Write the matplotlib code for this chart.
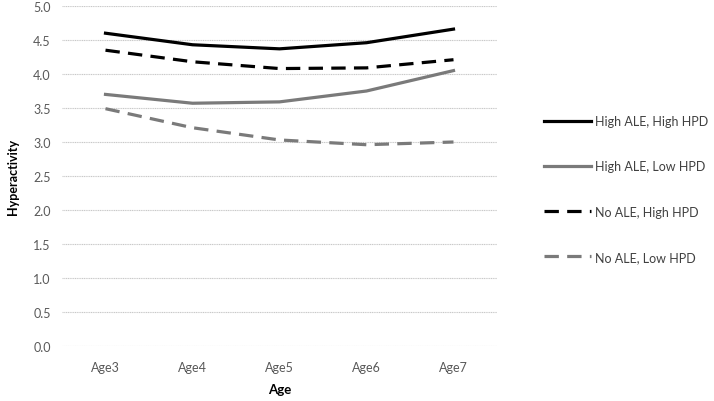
import matplotlib
matplotlib.use("Agg")
import matplotlib.pyplot as plt

# ---------------------------------------------------------- DATA ----------------------------------------------------------#
ages = ['Age3', 'Age4', 'Age5', 'Age6', 'Age7']
high_ale_high_hpd = [4.60, 4.43, 4.37, 4.46, 4.66]
high_ale_low_hpd = [3.70, 3.57, 3.59, 3.75, 4.05]
no_ale_high_hpd = [4.35, 4.18, 4.08, 4.09, 4.21]
no_ale_low_hpd = [3.49, 3.21, 3.03, 2.96, 3.00]
yticks = [0.0, 0.5, 1.0, 1.5, 2.0, 2.5, 3.0, 3.5, 4.0, 4.5, 5.0]

# ---------------------------------------------------------- PLOT ----------------------------------------------------------#
plt.rcParams['font.family'] = ['Lato', 'DejaVu Sans']
W, H = 714, 402
fig = plt.figure(figsize=(W / 100, H / 100), dpi=100)
ax = fig.add_axes([62 / W, (H - 347) / H, (497 - 62) / W, 340 / H])

x = range(len(ages))
dash = (0, (4.5, 2.6))
ax.plot(x, high_ale_high_hpd, color='black', lw=2.3, label='High ALE, High HPD', zorder=3)
ax.plot(x, high_ale_low_hpd, color='#7a7a7a', lw=2.3, label='High ALE, Low HPD', zorder=3)
ax.plot(x, no_ale_high_hpd, color='black', lw=2.3, linestyle=dash, label='No ALE, High HPD', zorder=3)
ax.plot(x, no_ale_low_hpd, color='#7a7a7a', lw=2.3, linestyle=dash, label='No ALE, Low HPD', zorder=3)

ax.set_xlim(-0.5, len(ages) - 0.5)
ax.set_ylim(0, 5.0)
ax.set_yticks(yticks)
ax.set_yticklabels(['{:.1f}'.format(v) for v in yticks])
ax.set_xticks(list(x))
ax.set_xticklabels(ages)
ax.tick_params(length=0, labelsize=9, labelcolor='#595959', pad=8)
ax.tick_params(axis='x', pad=11)
ax.grid(axis='y', color='#c8c8c8', lw=0.8, linestyle=(0, (1, 0.6)))
ax.set_axisbelow(True)
for s in ax.spines.values():
    s.set_visible(False)

ax.set_xlabel('Age', fontsize=9.5, fontweight='bold', labelpad=7)
ax.set_ylabel('Hyperactivity', fontsize=9, fontweight='bold', labelpad=10)

leg = fig.legend(loc='center left', bbox_to_anchor=(533 / W, 1 - 190 / H), frameon=False,
                 fontsize=9, handlelength=3.75, handletextpad=0.3, labelspacing=2.65)
for t in leg.get_texts():
    t.set_color('#404040')

fig.savefig('out.png', dpi=100)
